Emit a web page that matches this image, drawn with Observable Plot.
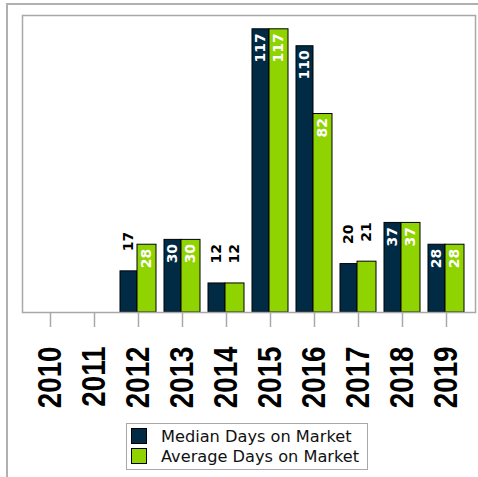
<!DOCTYPE html>
<html>
<head>
<meta charset="utf-8">
<script src="https://cdn.jsdelivr.net/npm/d3@7"></script>
<script src="https://cdn.jsdelivr.net/npm/@observablehq/plot@0.6"></script>
<style>
  html, body { margin: 0; padding: 0; background: #fff; overflow: hidden; }
  #wrap { position: relative; width: 478px; height: 477px; }
  #outer { position: absolute; left: 6px; top: 3px; width: 480px; height: 480px;
           border-top: 2px solid #b0b0b0; border-left: 2px solid #b0b0b0; box-sizing: border-box; }
  #chart { position: absolute; left: 0; top: 0; }
  #legend { position: absolute; left: 126px; top: 423px; width: 242px; height: 47px;
            border: 1.5px solid #a8a8a8; box-sizing: border-box; background: #fff;
            font-family: "DejaVu Sans", sans-serif; font-size: 16.2px; color: #111; }
  .row { position: absolute; left: 4px; height: 20px; display: flex; align-items: center; white-space: nowrap; }
  .sw { width: 14px; height: 14px; border: 1px solid #000; margin-right: 14px; }
</style>
</head>
<body>
<div id="wrap">
  <div id="outer"></div>
  <div id="chart"></div>
  <div id="legend"></div>
</div>
<script>
const years = ["2010","2011","2012","2013","2014","2015","2016","2017","2018","2019"];
const medianDays = [null, null, 17, 30, 12, 117, 110, 20, 37, 28];
const averageDays = [null, null, 28, 30, 12, 117, 82, 21, 37, 28];
const seriesNames = ["Median Days on Market", "Average Days on Market"];
const seriesColors = ["#012b45", "#8fd300"];

const medianRows = years.map((y, i) => ({year: y, value: medianDays[i]})).filter(d => d.value != null);
const averageRows = years.map((y, i) => ({year: y, value: averageDays[i]})).filter(d => d.value != null);

const fits = d => d.value >= 25;
const labelFont = {fontFamily: "DejaVu Sans", fontWeight: "bold", fontSize: 14, rotate: -90, lineAnchor: "middle"};

const chart = Plot.plot({
  width: 478,
  height: 420,
  marginTop: 15,
  marginLeft: 22,
  marginRight: 3,
  marginBottom: 108,
  x: {type: "band", domain: years, paddingInner: 0.18, paddingOuter: 0.225},
  y: {domain: [0, 122.7], axis: null},
  marks: [
    Plot.barY(medianRows, {x: "year", y: "value", fill: seriesColors[0], stroke: "#000", strokeWidth: 1, insetRight: 19}),
    Plot.barY(averageRows, {x: "year", y: "value", fill: seriesColors[1], stroke: "#000", strokeWidth: 1, insetLeft: 17}),
    Plot.text(medianRows.filter(fits), {x: "year", y: "value", text: d => String(d.value), fill: "#fff", textAnchor: "end", dx: -9.5, dy: 4, ...labelFont}),
    Plot.text(averageRows.filter(fits), {x: "year", y: "value", text: d => String(d.value), fill: "#fff", textAnchor: "end", dx: 8.5, dy: 4, ...labelFont}),
    Plot.text(medianRows.filter(d => !fits(d)), {x: "year", y: "value", text: d => String(d.value), fill: "#000", textAnchor: "start", dx: -9.5, dy: -20, ...labelFont}),
    Plot.text(averageRows.filter(d => !fits(d)), {x: "year", y: "value", text: d => String(d.value), fill: "#000", textAnchor: "start", dx: 8.5, dy: -20, ...labelFont}),
    Plot.frame({stroke: "#a8a8a8", strokeWidth: 1.5}),
    Plot.axisX({label: null, tickSize: 15, tickPadding: 19, tickRotate: -90, fontSize: 33, fontWeight: "bold",
                fontFamily: "Liberation Sans", stroke: "#a8a8a8", strokeWidth: 1.5, fill: "#000"})
  ]
});
document.getElementById("chart").appendChild(chart);

// condense tick labels along their length (narrow bold look)
chart.querySelectorAll('g[aria-label="x-axis tick label"] text').forEach(t => {
  const tr = t.getAttribute("transform") || "";
  t.setAttribute("transform", tr + " scale(0.84,1)");
});

const legend = document.getElementById("legend");
seriesNames.forEach((name, i) => {
  const row = document.createElement("div");
  row.className = "row";
  row.style.top = (2 + i * 20) + "px";
  const sw = document.createElement("div");
  sw.className = "sw";
  sw.style.background = seriesColors[i];
  const tx = document.createElement("span");
  tx.textContent = name;
  row.appendChild(sw);
  row.appendChild(tx);
  legend.appendChild(row);
});
</script>
</body>
</html>
